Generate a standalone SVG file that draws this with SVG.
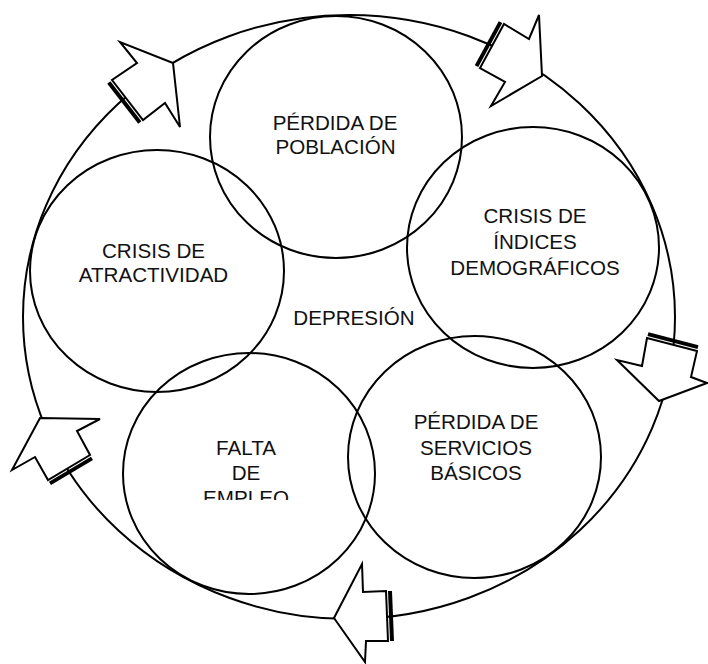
<svg xmlns="http://www.w3.org/2000/svg" width="708" height="664" viewBox="0 0 708 664">
<style>
.ring{fill:none;stroke:#000;stroke-width:2}
.node{fill:none;stroke:#000;stroke-width:2}
.arrow{fill:#fff;stroke:#000;stroke-width:2;stroke-linejoin:miter}
.bar{stroke:#000;stroke-width:4;stroke-linecap:butt}
.lbl{font-family:"Liberation Sans",Arial,sans-serif;font-size:20.6px;fill:#111;text-anchor:middle}
</style>
<defs>
<clipPath id="clipEmpleo"><rect x="120" y="420" width="260" height="80"/></clipPath>
</defs>
<g id="connectors">
<ellipse class="ring" cx="349" cy="317" rx="326" ry="302"/>
<g id="arrow-tl">
<polygon class="arrow" points="120,42 137,63 112,80 143,120 165,103 180,127 173,63"/>
<line class="bar" x1="108.8" y1="82.5" x2="139.8" y2="122.5"/>
</g>
<g id="arrow-tr">
<polygon class="arrow" points="539,15 529,39 504,24 480,68 505,82 491,106 542,76"/>
<line class="bar" x1="500.5" y1="22.1" x2="476.5" y2="66.1"/>
</g>
<g id="arrow-r">
<polygon class="arrow" points="647,338 642,366 617,360 659,401 707,383 691,377 697,351"/>
<line class="bar" x1="648" y1="334.1" x2="698" y2="347.1"/>
</g>
<g id="arrow-b">
<polygon class="arrow" points="362,564 363,592 386,591 388,641 366,641 365,662 334,618"/>
<line class="bar" x1="390" y1="591" x2="392" y2="641"/>
</g>
<g id="arrow-ll">
<polygon class="arrow" points="100,419 77,431 90,455 48,480 35,457 12,470 40,418"/>
<line class="bar" x1="92" y1="458.4" x2="50" y2="483.4"/>
</g>
</g>
<g id="node-poblacion">
<ellipse class="node" cx="336" cy="137" rx="126" ry="121"/>
<text class="lbl" x="335" y="130">PÉRDIDA DE</text>
<text class="lbl" x="335.5" y="154">POBLACIÓN</text>
</g>
<g id="node-atractividad">
<ellipse class="node" cx="157" cy="271" rx="127" ry="121"/>
<text class="lbl" x="153.5" y="258">CRISIS DE</text>
<text class="lbl" x="153.5" y="282">ATRACTIVIDAD</text>
</g>
<g id="node-indices">
<ellipse class="node" cx="533" cy="247.5" rx="126" ry="120.5"/>
<text class="lbl" x="535" y="223">CRISIS DE</text>
<text class="lbl" x="535" y="248.5">ÍNDICES</text>
<text class="lbl" x="535" y="275">DEMOGRÁFICOS</text>
</g>
<g id="node-servicios">
<ellipse class="node" cx="474.5" cy="457" rx="126.5" ry="121"/>
<text class="lbl" x="476" y="429">PÉRDIDA DE</text>
<text class="lbl" x="476" y="455">SERVICIOS</text>
<text class="lbl" x="476" y="480">BÁSICOS</text>
</g>
<g id="node-empleo">
<ellipse class="node" cx="249" cy="473.5" rx="126" ry="120.5"/>
<g clip-path="url(#clipEmpleo)">
<text class="lbl" x="246" y="455">FALTA</text>
<text class="lbl" x="246" y="480">DE</text>
<text class="lbl" x="246" y="505">EMPLEO</text>
</g>
</g>
<g id="node-depresion">
<text class="lbl" x="354" y="325">DEPRESIÓN</text>
</g>
</svg>
